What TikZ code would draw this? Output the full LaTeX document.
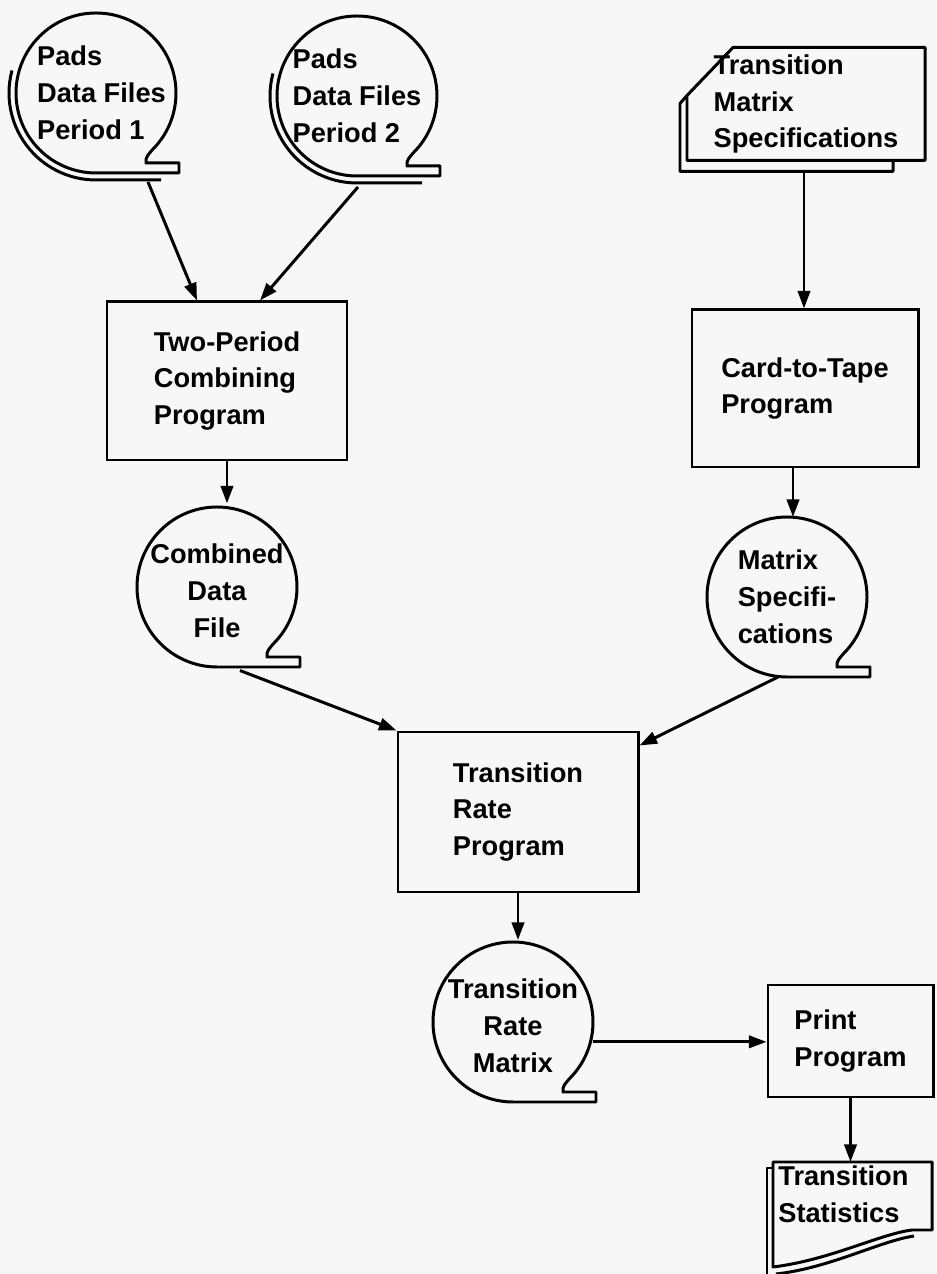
\documentclass[tikz,border=0pt]{standalone}
\usepackage{fontspec}
\setmainfont{Liberation Sans}
\usetikzlibrary{calc,arrows.meta}

\newcommand{\lettering}{\fontsize{15.5}{21}\selectfont\bfseries}
% tape symbol round a circle node
\newcommand{\tapeOutline}[1]{%
  \draw[outline] ($(#1.center)+(-45:80)$) arc[start angle=-45,end angle=270,radius=16mm]
    -- ++(83,0) -- ++(0,10) -- ++(-33,0) to[out=100,in=-130] ($(#1.center)+(-45:80)$);}
\newcommand{\reelsOutline}[1]{%
  \tapeOutline{#1}
  \draw[outline] ($(#1.center)+(165:87)$) arc[start angle=165,end angle=270,radius=17.4mm] -- ++(65,0);}

\begin{document}
\begin{tikzpicture}[x=0.2mm,y=0.2mm,
  outline/.style={line width=1.7pt,line join=round},
  flowLine/.style={outline,-{Triangle[length=10pt,width=7pt]}},
  progBox/.style={draw,line width=1.7pt,align=left,font=\lettering},
  tapeNode/.style={circle,minimum size=32mm,inner sep=0pt,outer sep=0pt,align=left,font=\lettering},
  cardNode/.style={rectangle,minimum width=47.6mm,minimum height=22.6mm,inner sep=0pt,outer sep=0pt,align=left,font=\lettering}]
\fill[black!3] (0,0) rectangle (937,1274);
\useasboundingbox (0,0) rectangle (937,1274);

\node[tapeNode] (padsA) at (96,1181) {\hspace*{2.2mm}Pads\\\hspace*{2.2mm}Data Files\\\hspace*{2.2mm}Period 1};
\node[tapeNode] (padsB) at (357,1178) {Pads\\Data Files\\Period 2};
\node[cardNode] (matSpecCard) at (806,1170) {Transition\\Matrix\\Specifications};

\node[progBox,minimum width=48mm,minimum height=31.6mm] (combProg) at (227,893) {Two-Period\\Combining\\Program};
\node[progBox,minimum width=45.2mm,minimum height=31.4mm] (cardProg) at (805,885.5) {Card-to-Tape\\Program};

\node[tapeNode,align=center] (combFile) at (217,687) {\\[-2mm]Combined\\Data\\File};
\node[tapeNode] (matSpecFile) at (787,677) {Matrix\\Specifi-\\cations};

\node[progBox,minimum width=48mm,minimum height=32mm] (rateProg) at (518,462) {Transition\\Rate\\Program};
\node[tapeNode,align=center] (rateFile) at (513,252) {\\[-2mm]Transition\\Rate\\Matrix};
\node[progBox,minimum width=33mm,minimum height=22.4mm] (printProg) at (850.5,233) {Print\\Program};
\node[anchor=north west,inner sep=0pt,outer ysep=0.8mm,align=left,font=\lettering] (statsDoc) at (778,112) {Transition\\Statistics};

% file symbols
\reelsOutline{padsA}
\reelsOutline{padsB}
\tapeOutline{combFile}
\tapeOutline{matSpecFile}
\tapeOutline{rateFile}

\draw[outline] (matSpecCard.south west) -- (matSpecCard.south east) -- (matSpecCard.north east)
  -- ($(matSpecCard.north west)+(46,0)$) -- ($(matSpecCard.north west)+(0,-48)$) -- cycle;
\draw[outline] ($(matSpecCard.north west)+(0,-48)$) -- ++(-7,-8) |- ($(matSpecCard.south east)+(-32,-11)$) -- ++(0,11);

\draw[outline] (773,112) -- (932,112) -- (932,44) -- (912,44) .. controls (880,40) and (830,14) .. (773,7) -- cycle;
\draw[outline] (914,38) .. controls (880,33) and (830,6) .. (776,0);
\draw[outline] (773,106) -- (767,106) -- (767,0);

% flow
\draw[flowLine] ($(padsA.south)+(52,-5)$) -- ($(combProg.north)+(-30,0)$);
\draw[flowLine] ($(padsB.south)+(1,-11)$) -- ($(combProg.north)+(33,0)$);
\draw[flowLine] ($(matSpecCard.south)+(-2,-11)$) -- ($(cardProg.north)+(-1,0)$);
\draw[flowLine] (combProg.south) -- (combProg.south |- combFile.north);
\draw[flowLine] ($(cardProg.south)+(-12,0)$) -- ($(matSpecFile.north)+(6,0)$);
\draw[flowLine] ($(combFile.south)+(23,0)$) -- (rateProg.north west);
\draw[flowLine] ($(matSpecFile.south)+(-9,0)$) -- ($(rateProg.north east)+(0,-15)$);
\draw[flowLine] (rateProg.south) -- (rateProg.south |- rateFile.north);
\draw[flowLine] (rateFile.-14) -- (rateFile.-14 -| printProg.west);
\draw[flowLine] (printProg.south) -- (printProg.south |- statsDoc.north);
\end{tikzpicture}
\end{document}
